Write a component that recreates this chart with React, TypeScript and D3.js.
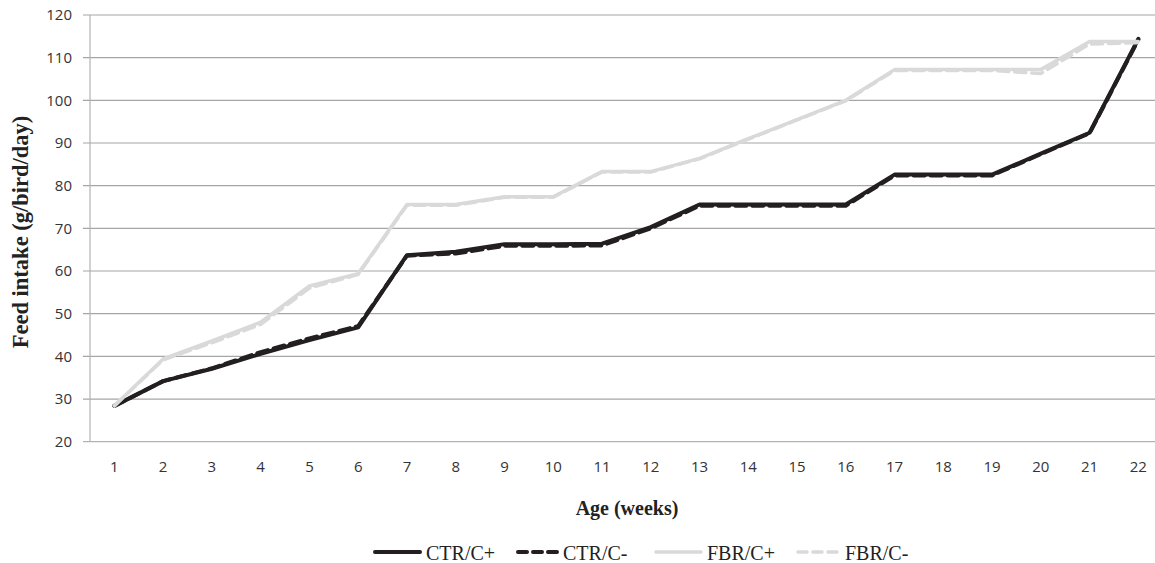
import React from "react";
import * as d3 from "d3";

const weeks = ["1","2","3","4","5","6","7","8","9","10","11","12","13","14","15","16","17","18","19","20","21","22"];
const ctrCPlus = [28.4, 34.2, 37.1, 40.6, 43.8, 46.8, 63.7, 64.5, 66.3, 66.3, 66.4, 70.3, 75.6, 75.6, 75.6, 75.6, 82.6, 82.6, 82.6, 87.5, 92.4, 114.4];
const ctrCMinus = [28.4, 34.2, 37.2, 41.0, 44.2, 47.1, 63.6, 64.1, 65.9, 65.9, 66.0, 70.0, 75.3, 75.3, 75.3, 75.3, 82.4, 82.4, 82.4, 87.4, 92.3, 114.2];
const fbrCPlus = [28.4, 39.4, 43.6, 48.0, 56.5, 59.4, 75.6, 75.6, 77.4, 77.4, 83.3, 83.3, 86.4, 91.0, 95.5, 100.0, 107.2, 107.2, 107.2, 107.2, 113.8, 113.8];
const fbrCMinus = [28.4, 39.2, 43.2, 47.5, 56.0, 59.2, 75.4, 75.4, 77.3, 77.3, 83.2, 83.2, 86.3, 90.9, 95.4, 99.9, 107.0, 107.0, 107.0, 106.3, 113.2, 113.5];
const yTicks = [20, 30, 40, 50, 60, 70, 80, 90, 100, 110, 120];
const seriesNames = ["CTR/C+", "CTR/C-", "FBR/C+", "FBR/C-"];

const W = 1155;
const H = 563;
const left = 90;
const band = 48.76;
const top = 15;
const bottom = 441.7;

const styles = [
  { color: "#231f20", width: 4, dash: undefined as string | undefined },
  { color: "#231f20", width: 4, dash: "11 6" },
  { color: "#d9d9d9", width: 3.5, dash: undefined as string | undefined },
  { color: "#d9d9d9", width: 3.5, dash: "11 6" },
];
const legendX = [372, 515, 653, 795];
const legendLen = [48, 42, 48, 44];

export default function App() {
  const x = d3.scaleBand<string>().domain(weeks).range([left, left + band * weeks.length]);
  const y = d3.scaleLinear().domain([20, 120]).range([bottom, top]);
  const cx = (w: string) => (x(w) as number) + x.bandwidth() / 2;
  const data = [ctrCPlus, ctrCMinus, fbrCPlus, fbrCMinus];
  const line = d3
    .line<number>()
    .x((_, i) => cx(weeks[i]))
    .y((v) => y(v));
  const right = left + band * weeks.length;

  return (
    <div style={{ position: "fixed", left: 0, top: 0, width: W, height: H, background: "#fff" }}>
      <svg width={W} height={H} viewBox={`0 0 ${W} ${H}`} style={{ display: "block" }}>
        <rect x={0} y={0} width={W} height={H} fill="#fff" />
        {yTicks.map((t) => (
          <g key={t}>
            <line x1={left - 7} x2={right} y1={y(t)} y2={y(t)} stroke={t === 20 ? "#b3b3b3" : "#a6a6a6"} strokeWidth={1.2} />
            <text
              x={72}
              y={y(t) + 5.3}
              textAnchor="end"
              fontFamily="'Open Sans', sans-serif"
              fontSize={15}
              fill="#333"
            >
              {t}
            </text>
          </g>
        ))}
        <line x1={left} x2={left} y1={top} y2={bottom} stroke="#b3b3b3" strokeWidth={1.2} />
        {weeks.map((w) => (
          <text
            key={w}
            x={cx(w)}
            y={472}
            textAnchor="middle"
            fontFamily="'Open Sans', sans-serif"
            fontSize={15}
            fill="#333"
          >
            {w}
          </text>
        ))}
        {data.map((d, i) => (
          <path
            key={seriesNames[i]}
            d={line(d) as string}
            fill="none"
            stroke={styles[i].color}
            strokeWidth={styles[i].width}
            strokeDasharray={styles[i].dash}
            strokeLinejoin="round"
            strokeLinecap="round"
          />
        ))}
        <text
          transform={`translate(28,232) rotate(-90)`}
          textAnchor="middle"
          fontFamily="'Liberation Serif', 'Times New Roman', serif"
          fontWeight="bold"
          fontSize={22.5}
          fill="#222"
        >
          Feed intake (g/bird/day)
        </text>
        <text
          x={627}
          y={515}
          textAnchor="middle"
          fontFamily="'Liberation Serif', 'Times New Roman', serif"
          fontWeight="bold"
          fontSize={20}
          fill="#222"
        >
          Age (weeks)
        </text>
        {seriesNames.map((n, i) => (
          <g key={n}>
            <line
              x1={legendX[i] + 3}
              x2={legendX[i] + legendLen[i]}
              y1={552}
              y2={552}
              stroke={styles[i].color}
              strokeWidth={styles[i].width}
              strokeDasharray={styles[i].dash ? "9 6" : undefined}
              strokeLinecap="round"
            />
            <text
              x={legendX[i] + legendLen[i] + 6}
              y={560}
              fontFamily="'Liberation Serif', 'Times New Roman', serif"
              fontSize={20}
              fill="#222"
            >
              {n}
            </text>
          </g>
        ))}
      </svg>
    </div>
  );
}
